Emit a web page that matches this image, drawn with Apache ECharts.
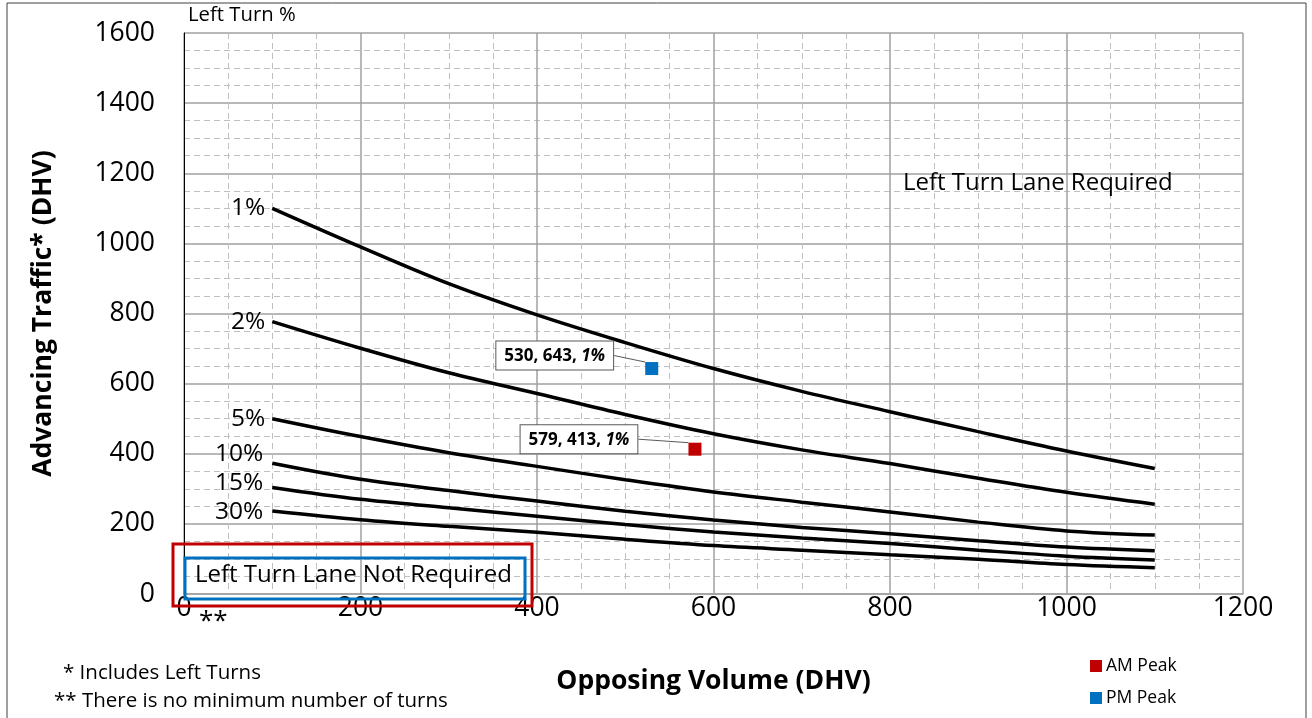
<!DOCTYPE html>
<html>
<head>
<meta charset="utf-8">
<script src="https://cdn.jsdelivr.net/npm/echarts@6/dist/echarts.min.js"></script>
<style>
html,body{margin:0;padding:0;background:#fff;}
#chart{width:1312px;height:718px;}
</style>
</head>
<body>
<div id="chart"></div>
<script>
// ---- data ----
const opposingVolume = [100, 200, 300, 400, 500, 600, 700, 800, 900, 1000, 1100];
const curveNames = ['1%', '2%', '5%', '10%', '15%', '30%'];
const pct1  = [1100, 990, 885, 796, 717, 643, 578, 520, 463, 408, 358];
const pct2  = [777, 701, 631, 572, 512, 457, 411, 372, 330, 290, 256];
const pct5  = [500, 449, 403, 364, 326, 291, 262, 234, 205, 180, 168];
const pct10 = [373, 327, 295, 265, 236, 211, 190, 172, 152, 134, 123];
const pct15 = [304, 270, 246, 222, 198, 177, 160, 144, 125, 108, 97];
const pct30 = [237, 212, 193, 176, 156, 138, 125, 112, 99, 84, 75];
const amPeak = [579, 413];
const pmPeak = [530, 643];
const xTicks = [0, 200, 400, 600, 800, 1000, 1200];
const yTicks = [0, 200, 400, 600, 800, 1000, 1200, 1400, 1600];

const FONT = '"Open Sans", Lato, sans-serif';
const curves = [pct1, pct2, pct5, pct10, pct15, pct30];
const labelOffsets = [[0, 0], [0, 0], [0, 0], [-2, -9], [-2, -4], [-2, 1]];

const lineSeries = curves.map((vals, i) => ({
  type: 'line',
  name: curveNames[i],
  smooth: 0.35,
  symbol: 'circle',
  symbolSize: 0,
  showSymbol: true,
  silent: true,
  lineStyle: { color: '#000', width: 3.5 },
  itemStyle: { color: '#000' },
  z: 3,
  data: vals.map((v, j) => j === 0 ? {
    value: [opposingVolume[j], v],
    label: {
      show: true, position: 'left', distance: 7,
      offset: labelOffsets[i],
      formatter: curveNames[i],
      color: '#000', fontSize: 24.5, fontFamily: FONT
    }
  } : { value: [opposingVolume[j], v] })
}));

function peakSeries(name, pt, color, dx, dy) {
  return {
    type: 'scatter',
    name: name,
    symbol: 'rect',
    symbolSize: 13,
    itemStyle: { color: color, opacity: 1 },
    z: 5,
    data: [{ value: pt }],
    label: {
      show: true,
      position: 'inside',
      formatter: () => '{b|' + pt[0] + ', ' + pt[1] + ', }{i|1%}',
      backgroundColor: '#fff',
      borderColor: '#595959',
      borderWidth: 1,
      padding: [6, 8, 5, 8],
      rich: {
        b: { fontSize: 17, fontWeight: 'bold', fontFamily: FONT, color: '#000' },
        i: { fontSize: 17, fontWeight: 'bold', fontStyle: 'italic', fontFamily: FONT, color: '#000' }
      }
    },
    labelLayout: { dx: dx, dy: dy },
    labelLine: { show: true, lineStyle: { color: '#595959', width: 1 } }
  };
}

const chart = echarts.init(document.getElementById('chart'));
chart.setOption({
  backgroundColor: '#fff',
  animation: false,
  grid: { left: 184, right: 69, top: 33, bottom: 124, containLabel: false },
  xAxis: {
    type: 'value', min: xTicks[0], max: xTicks[xTicks.length - 1], interval: 200,
    name: 'Opposing Volume (DHV)', nameLocation: 'middle', nameGap: 74,
    nameTextStyle: { fontSize: 26.5, fontWeight: 'bold', fontFamily: FONT, color: '#000' },
    axisLine: { show: true, lineStyle: { color: '#a0a0a0', width: 1.5 } },
    axisTick: { show: false },
    axisLabel: { fontSize: 26.5, fontFamily: FONT, color: '#000', margin: 1, formatter: v => String(v) },
    splitLine: { show: true, lineStyle: { color: '#a0a0a0', width: 1.5 } },
    minorTick: { show: false, splitNumber: 4 },
    minorSplitLine: { show: true, lineStyle: { color: '#bfbfbf', width: 1, type: [6, 4] } }
  },
  yAxis: {
    type: 'value', min: yTicks[0], max: yTicks[yTicks.length - 1], interval: 200,
    name: 'Advancing Traffic* (DHV)', nameLocation: 'middle', nameGap: 127, nameRotate: 90,
    nameTextStyle: { fontSize: 26.5, fontWeight: 'bold', fontFamily: FONT, color: '#000' },
    axisLine: { show: true, lineStyle: { color: '#000', width: 1 } },
    axisTick: { show: false },
    axisLabel: { fontSize: 26.5, fontFamily: FONT, color: '#000', margin: 29, formatter: v => String(v) },
    splitLine: { show: true, lineStyle: { color: '#a0a0a0', width: 1.5 } },
    minorTick: { show: false, splitNumber: 4 },
    minorSplitLine: { show: true, lineStyle: { color: '#bfbfbf', width: 1, type: [6, 4] } }
  },
  legend: {
    show: true, orient: 'vertical', left: 1090, top: 657, padding: 0,
    itemWidth: 12, itemHeight: 12, itemGap: 14, icon: 'rect',
    data: ['AM Peak', 'PM Peak'],
    textStyle: { fontSize: 17.5, fontFamily: FONT, color: '#000', padding: [0, 0, 0, -1] },
    selectedMode: false
  },
  series: lineSeries.concat([
    peakSeries('AM Peak', amPeak, '#C00000', -116, -10),
    peakSeries('PM Peak', pmPeak, '#0070C0', -97, -13)
  ]),
  graphic: [
    { type: 'rect', shape: { x: 7, y: 3, width: 1299, height: 720 }, style: { fill: 'none', stroke: '#404040', lineWidth: 1 }, silent: true, z: 0 },
    { type: 'rect', shape: { x: 173, y: 544, width: 359, height: 62 }, style: { fill: 'none', stroke: '#C00000', lineWidth: 3 }, z: 10 },
    { type: 'rect', shape: { x: 185, y: 558, width: 340, height: 41 }, style: { fill: 'none', stroke: '#0070C0', lineWidth: 3 }, z: 10 },
    { type: 'text', left: 195, top: 563, style: { text: 'Left Turn Lane Not Required', fontSize: 24, fontFamily: FONT, fill: '#000' }, z: 10 },
    { type: 'text', left: 903, top: 171, style: { text: 'Left Turn Lane Required', fontSize: 24, fontFamily: FONT, fill: '#000' }, z: 10 },
    { type: 'text', left: 188, top: 5, style: { text: 'Left Turn %', fontSize: 20.3, fontFamily: FONT, fill: '#000' }, z: 10 },
    { type: 'text', left: 199, top: 609, style: { text: '**', fontSize: 26, fontFamily: FONT, fill: '#000' }, z: 10 },
    { type: 'text', left: 63, top: 663, style: { text: '* Includes Left Turns', fontSize: 20.5, fontFamily: FONT, fill: '#000' }, z: 10 },
    { type: 'text', left: 54, top: 691, style: { text: '** There is no minimum number of turns', fontSize: 20.5, fontFamily: FONT, fill: '#000' }, z: 10 }
  ]
});
</script>
</body>
</html>
